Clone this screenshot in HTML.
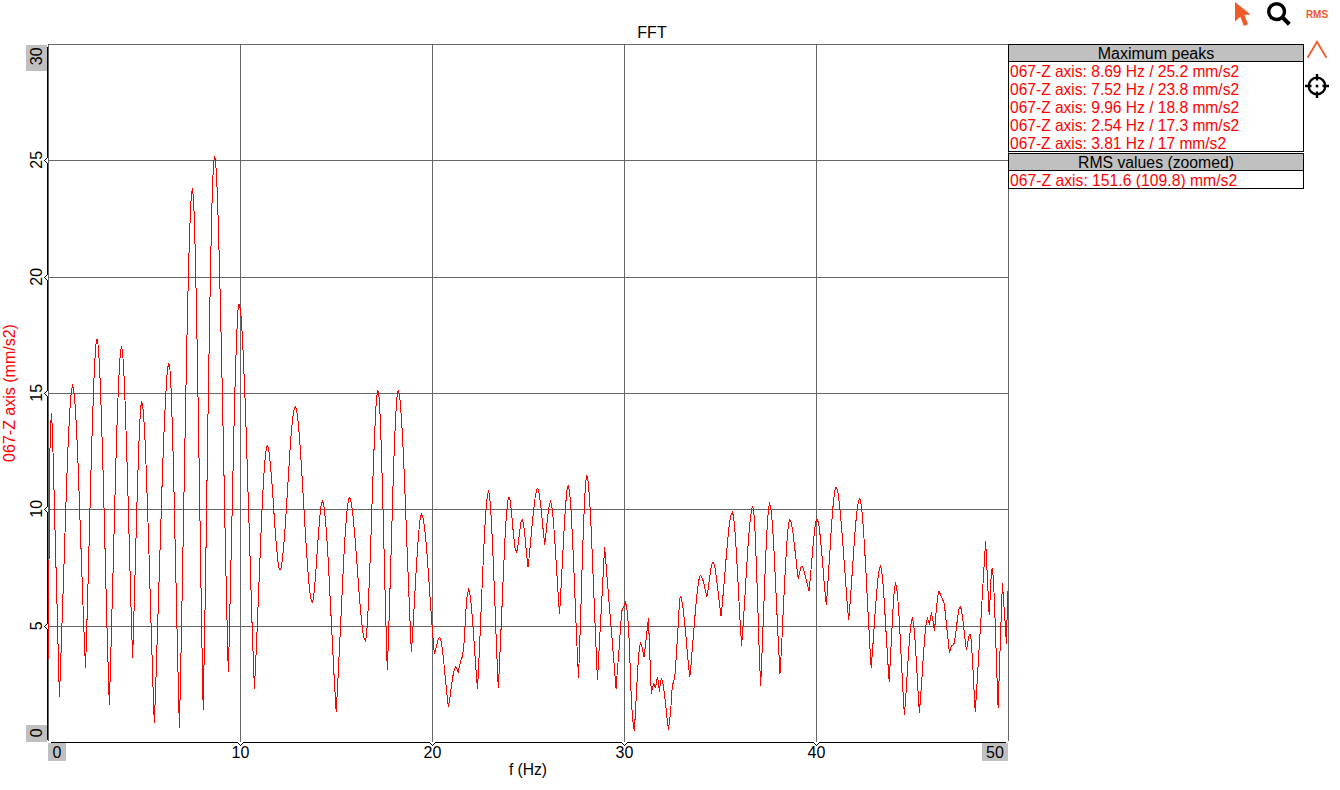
<!DOCTYPE html>
<html><head><meta charset="utf-8"><style>
html,body{margin:0;padding:0;background:#fff;width:1340px;height:790px;overflow:hidden}
svg{display:block;font-family:"Liberation Sans",sans-serif}
</style></head><body>
<svg width="1340" height="790" viewBox="0 0 1340 790">
<g shape-rendering="crispEdges" stroke-width="1">
<path d="M48.5 741V44.5H1008.5V741" fill="none" stroke="#666666"/>
<path d="M240.5 45V742" stroke="#666666"/>
<path d="M432.5 45V742" stroke="#666666"/>
<path d="M624.5 45V742" stroke="#666666"/>
<path d="M816.5 45V742" stroke="#666666"/>
<path d="M49 160.5H1008" stroke="#666666"/>
<path d="M49 277.5H1008" stroke="#666666"/>
<path d="M49 393.5H1008" stroke="#666666"/>
<path d="M49 509.5H1008" stroke="#666666"/>
<path d="M49 626.5H1008" stroke="#666666"/>
<polyline points="48.5,659.0 49.5,466.0 50.5,431.0 51.3,413.0 52.2,426.0 53.0,452.0 54.1,492.8 55.1,533.5 56.2,574.2 57.3,615.0 58.3,655.8 59.4,696.5 60.4,670.9 61.4,642.4 62.4,612.0 63.5,580.5 64.5,548.6 65.5,517.3 66.5,487.5 67.5,459.9 68.5,435.4 69.6,414.9 70.6,399.2 71.6,389.1 72.6,385.6 73.6,388.8 74.6,397.9 75.6,412.2 76.6,430.8 77.6,453.0 78.6,478.1 79.5,505.2 80.5,533.6 81.5,562.5 82.5,591.1 83.5,618.7 84.5,644.6 85.5,667.8 86.5,638.4 87.4,605.5 88.4,570.3 89.3,534.0 90.3,497.8 91.2,462.6 92.2,429.7 93.2,400.3 94.1,375.4 95.1,356.2 96.0,343.9 97.0,339.5 98.0,344.4 99.0,358.1 100.1,379.4 101.1,407.1 102.1,439.9 103.2,476.4 104.2,515.5 105.2,555.9 106.2,596.2 107.2,635.3 108.3,671.9 109.3,704.6 110.3,672.5 111.3,636.6 112.3,598.3 113.4,558.7 114.4,519.1 115.4,480.8 116.4,444.9 117.4,412.8 118.5,385.7 119.5,364.7 120.5,351.3 121.5,346.5 122.5,351.4 123.5,365.2 124.5,386.5 125.5,413.8 126.5,445.9 127.6,481.2 128.6,518.3 129.6,556.0 130.6,592.7 131.6,627.1 132.6,657.7 133.6,626.4 134.6,590.9 135.6,553.3 136.6,515.7 137.7,480.2 138.7,448.9 139.7,424.0 140.7,407.5 141.7,401.5 142.7,405.2 143.6,415.5 144.6,431.8 145.6,453.0 146.5,478.3 147.5,506.8 148.5,537.7 149.5,570.0 150.4,602.9 151.4,635.5 152.4,666.9 153.3,696.3 154.3,722.8 155.3,697.4 156.3,669.4 157.2,639.4 158.2,608.2 159.2,576.4 160.2,544.6 161.2,513.4 162.1,483.5 163.1,455.5 164.1,430.0 165.1,407.8 166.1,389.4 167.0,375.4 168.0,366.6 169.0,363.5 170.0,370.4 171.1,389.7 172.1,419.2 173.2,456.8 174.2,500.1 175.2,547.1 176.3,595.6 177.3,643.3 178.4,688.1 179.4,727.8 180.4,683.4 181.4,634.0 182.4,581.3 183.4,526.5 184.4,471.3 185.4,417.0 186.4,365.2 187.4,317.4 188.4,274.9 189.4,239.3 190.4,212.1 191.4,194.6 192.4,188.5 193.4,196.7 194.4,219.8 195.3,255.4 196.3,301.3 197.3,354.9 198.3,414.0 199.3,476.3 200.3,539.3 201.2,600.8 202.2,658.3 203.2,709.6 204.2,655.1 205.3,593.9 206.3,528.5 207.3,461.5 208.3,395.3 209.4,332.5 210.4,275.5 211.4,226.8 212.4,188.9 213.5,164.3 214.5,155.6 215.5,160.7 216.5,175.2 217.5,198.0 218.4,227.9 219.4,263.9 220.4,304.8 221.4,349.4 222.4,396.7 223.4,445.5 224.4,494.6 225.3,543.0 226.3,589.5 227.3,633.0 228.3,672.4 229.3,636.2 230.2,595.6 231.2,552.2 232.2,507.7 233.2,463.7 234.1,422.0 235.1,384.1 236.1,351.8 237.1,326.6 238.0,310.3 239.0,304.5 240.0,307.8 241.1,317.2 242.1,332.2 243.1,351.8 244.1,375.6 245.2,402.8 246.2,432.8 247.2,464.7 248.2,498.1 249.3,532.1 250.3,566.1 251.3,599.5 252.3,631.5 253.4,661.4 254.4,688.6 255.4,668.6 256.4,646.4 257.4,622.6 258.4,598.0 259.4,573.1 260.4,548.7 261.3,525.4 262.3,503.8 263.3,484.7 264.3,468.7 265.3,456.4 266.3,448.6 267.3,445.8 268.3,447.9 269.3,453.7 270.2,462.6 271.2,473.8 272.2,486.8 273.2,500.7 274.1,515.0 275.1,528.9 276.1,541.9 277.1,553.1 278.0,562.0 279.0,567.8 280.0,569.9 281.0,567.8 282.0,562.0 283.0,552.9 284.1,541.3 285.1,527.6 286.1,512.4 287.1,496.4 288.1,480.1 289.1,464.1 290.1,448.9 291.1,435.2 292.2,423.6 293.2,414.5 294.2,408.7 295.2,406.6 296.2,408.5 297.2,414.1 298.2,422.7 299.2,434.0 300.2,447.4 301.2,462.4 302.2,478.7 303.2,495.7 304.2,512.9 305.2,529.9 306.2,546.2 307.2,561.2 308.2,574.6 309.2,585.9 310.2,594.5 311.2,600.1 312.2,602.0 313.2,599.2 314.2,591.5 315.2,580.2 316.2,566.4 317.2,551.5 318.3,536.6 319.3,522.8 320.3,511.5 321.3,503.8 322.3,501.0 323.3,503.1 324.3,509.0 325.3,518.3 326.3,530.5 327.3,545.1 328.3,561.8 329.2,580.0 330.2,599.2 331.2,619.1 332.2,639.1 333.2,658.9 334.2,677.8 335.2,695.6 336.2,711.6 337.2,694.0 338.2,674.4 339.2,653.4 340.3,631.7 341.3,609.8 342.3,588.2 343.3,567.7 344.3,548.7 345.3,531.8 346.4,517.7 347.4,506.9 348.4,499.9 349.4,497.5 350.4,499.1 351.4,503.7 352.4,510.7 353.4,519.9 354.4,530.7 355.4,542.8 356.4,555.8 357.4,569.1 358.3,582.5 359.3,595.5 360.3,607.6 361.3,618.4 362.3,627.6 363.3,634.6 364.3,639.2 365.3,640.8 366.3,636.6 367.3,624.9 368.2,607.0 369.2,584.3 370.2,558.2 371.2,530.1 372.1,501.3 373.1,473.2 374.1,447.1 375.1,424.4 376.0,406.5 377.0,394.8 378.0,390.6 379.0,397.1 380.1,415.2 381.1,442.4 382.1,476.6 383.2,515.3 384.2,556.4 385.2,597.5 386.3,636.2 387.3,670.4 388.3,642.9 389.3,612.0 390.3,579.0 391.3,545.1 392.3,511.7 393.2,479.9 394.2,451.1 395.2,426.5 396.2,407.4 397.2,395.0 398.2,390.6 399.2,393.6 400.2,402.0 401.2,415.2 402.3,432.5 403.3,453.1 404.3,476.3 405.3,501.5 406.3,527.8 407.3,554.6 408.4,581.1 409.4,606.7 410.4,630.6 411.4,652.2 412.4,637.2 413.4,620.2 414.4,602.1 415.4,583.8 416.4,566.0 417.5,549.5 418.5,535.3 419.5,524.1 420.5,516.8 421.5,514.2 422.5,515.8 423.5,520.3 424.5,527.4 425.5,536.7 426.5,547.7 427.5,560.1 428.4,573.6 429.4,587.7 430.4,602.1 431.4,616.3 432.4,630.0 433.4,642.8 434.4,654.4 435.4,650.5 436.4,646.0 437.5,641.8 438.5,638.7 439.5,637.5 440.5,639.1 441.5,643.6 442.5,650.4 443.5,658.9 444.4,668.6 445.4,678.9 446.4,689.1 447.4,698.8 448.4,707.3 449.4,700.8 450.5,693.4 451.5,685.7 452.5,678.6 453.5,672.6 454.6,668.4 455.6,666.9 456.9,669.0 458.1,672.6 459.4,666.7 460.6,660.7 461.6,658.5 462.6,656.2 463.5,647.9 464.4,639.5 465.6,613.7 467.0,597.0 467.8,593.0 468.5,589.0 469.5,591.3 470.5,597.8 471.5,607.5 472.5,619.8 473.5,633.6 474.5,648.3 475.5,663.0 476.5,676.9 477.5,689.1 478.5,669.7 479.5,647.8 480.5,624.5 481.5,600.6 482.5,577.0 483.5,554.6 484.5,534.3 485.5,516.9 486.5,503.4 487.5,494.6 488.5,491.5 489.5,495.2 490.5,505.6 491.4,521.5 492.4,541.8 493.4,565.1 494.4,590.4 495.4,616.5 496.3,642.3 497.3,666.4 498.3,687.8 499.3,669.0 500.2,648.0 501.2,625.5 502.2,602.5 503.1,579.7 504.1,558.1 505.0,538.4 506.0,521.7 507.0,508.7 507.9,500.2 508.9,497.2 510.0,500.2 511.0,508.1 512.1,518.8 513.1,530.5 514.2,541.2 515.2,549.1 516.3,552.1 517.3,549.7 518.2,543.6 519.2,535.8 520.2,527.9 521.1,521.8 522.1,519.4 523.1,521.8 524.1,528.3 525.0,537.3 526.0,547.7 527.0,558.1 528.0,567.2 529.0,558.6 529.9,548.9 530.9,538.6 531.8,528.1 532.8,518.0 533.8,508.6 534.7,500.5 535.7,494.1 536.6,489.9 537.6,488.4 538.6,490.5 539.6,496.3 540.6,504.6 541.7,514.6 542.7,525.2 543.7,535.5 544.7,544.5 545.7,536.4 546.6,527.0 547.6,517.7 548.6,509.5 549.5,503.8 550.5,501.6 551.5,504.2 552.5,511.4 553.5,522.4 554.5,536.0 555.5,551.6 556.5,568.0 557.5,584.5 558.5,600.0 559.5,613.7 560.5,598.1 561.4,580.3 562.4,561.6 563.4,542.8 564.3,525.0 565.3,509.4 566.3,496.9 567.2,488.7 568.2,485.7 569.2,489.3 570.3,499.5 571.3,515.1 572.3,534.9 573.4,557.7 574.4,582.5 575.4,608.0 576.4,633.2 577.5,656.8 578.5,677.7 579.5,649.7 580.6,617.7 581.6,584.1 582.6,551.4 583.7,521.8 584.7,497.7 585.8,481.5 586.8,475.6 587.8,478.8 588.7,487.9 589.7,501.8 590.7,519.7 591.7,540.7 592.6,563.9 593.6,588.3 594.6,612.9 595.6,637.0 596.5,659.5 597.5,679.6 598.5,660.7 599.5,641.8 600.5,622.9 601.6,603.9 602.6,585.0 603.6,566.1 604.6,547.2 605.6,559.0 606.5,570.8 607.5,582.6 608.4,594.4 609.4,606.2 610.4,618.0 611.3,629.7 612.3,641.5 613.2,653.3 614.2,665.1 615.1,676.9 616.1,688.7 617.0,675.7 618.0,662.8 619.0,649.8 619.9,636.8 620.8,623.9 621.8,610.9 622.8,608.8 623.7,606.6 624.6,604.4 625.6,602.3 626.5,607.1 627.3,612.0 628.6,628.0 629.4,646.8 630.1,665.5 630.8,686.7 631.6,701.8 632.4,716.8 633.3,724.1 634.3,731.4 635.3,714.7 636.3,695.5 637.3,676.3 638.4,659.5 639.4,647.7 640.4,643.2 641.4,644.8 642.3,648.5 643.2,653.2 644.2,657.4 645.2,647.6 646.3,637.8 647.4,627.9 648.4,618.1 649.4,643.2 650.3,668.4 651.3,693.5 652.5,687.6 653.7,684.0 654.6,685.5 655.5,688.0 656.5,681.3 657.5,677.3 658.5,682.7 659.4,691.6 660.3,683.3 661.3,678.3 662.3,680.2 663.3,685.5 664.3,693.1 665.4,702.2 666.4,711.9 667.4,721.3 668.4,729.5 669.5,721.2 670.5,713.0 671.4,699.9 672.2,686.7 673.1,683.1 674.0,679.6 674.9,676.0 675.8,662.8 676.7,649.6 678.1,626.5 679.3,605.0 680.2,596.4 681.2,597.9 682.1,602.2 683.1,608.8 684.0,617.1 685.0,626.7 686.0,637.2 686.9,647.9 687.9,658.5 688.8,668.5 689.8,677.3 690.8,667.3 691.7,656.0 692.7,644.0 693.7,631.7 694.7,619.6 695.6,608.0 696.6,597.5 697.6,588.6 698.6,581.6 699.5,577.1 700.5,575.5 701.6,576.6 702.7,579.4 703.8,583.4 704.8,587.9 705.9,592.5 707.0,596.5 708.0,590.0 709.0,582.6 710.0,575.2 710.9,568.7 711.9,564.1 712.9,562.4 713.9,564.0 715.0,568.3 716.0,574.7 717.0,582.6 718.0,591.3 719.0,600.2 720.1,608.7 721.1,616.2 722.1,606.0 723.1,594.5 724.2,582.2 725.2,569.7 726.2,557.3 727.2,545.5 728.2,534.8 729.2,525.6 730.3,518.5 731.3,513.9 732.3,512.3 733.3,515.4 734.4,524.0 735.4,537.1 736.4,553.4 737.5,571.9 738.5,591.5 739.5,611.2 740.6,629.7 741.6,646.0 742.6,632.3 743.6,616.9 744.7,600.4 745.7,583.6 746.7,566.9 747.7,551.1 748.7,536.8 749.7,524.5 750.8,515.0 751.8,508.8 752.8,506.6 753.8,511.9 754.8,526.2 755.7,547.6 756.7,573.8 757.7,602.9 758.6,632.7 759.6,661.0 760.6,685.9 761.6,663.6 762.6,638.3 763.6,611.5 764.6,584.8 765.6,559.5 766.6,537.2 767.6,519.4 768.6,507.7 769.6,503.4 770.6,506.6 771.7,515.6 772.7,529.4 773.8,546.9 774.8,567.2 775.8,589.1 776.9,611.8 777.9,634.0 779.0,655.0 780.0,673.5 781.0,656.7 782.0,637.7 782.9,617.6 783.9,597.1 784.9,577.2 785.9,558.8 786.9,543.0 787.8,530.5 788.8,522.3 789.8,519.4 790.9,521.1 791.9,525.9 793.0,533.0 794.0,541.6 795.1,551.3 796.2,561.1 797.2,570.5 798.3,578.7 799.4,573.6 800.4,568.6 801.5,566.3 802.4,567.0 803.4,569.0 804.3,572.0 805.2,575.6 806.2,579.6 807.1,583.7 808.1,587.7 809.0,591.1 810.0,581.2 811.0,569.8 812.0,557.9 813.0,546.3 814.0,535.8 815.0,527.2 816.0,521.5 817.0,519.4 818.0,521.4 819.1,526.9 820.1,535.3 821.1,545.8 822.2,557.7 823.2,570.2 824.2,582.8 825.3,594.7 826.3,605.2 827.3,592.4 828.2,577.9 829.2,562.5 830.2,546.8 831.1,531.6 832.1,517.6 833.1,505.5 834.1,496.0 835.0,489.7 836.0,487.5 837.0,489.0 838.0,493.3 838.9,500.0 839.9,508.7 840.9,519.2 841.9,530.9 842.8,543.6 843.8,557.0 844.8,570.5 845.8,584.0 846.7,597.0 847.7,609.1 848.7,620.0 849.7,608.1 850.7,594.6 851.7,580.3 852.7,565.6 853.7,551.1 854.6,537.4 855.6,524.9 856.6,514.2 857.6,505.9 858.6,500.5 859.6,498.6 860.6,500.8 861.5,507.2 862.5,517.1 863.5,529.9 864.4,545.0 865.4,561.9 866.4,580.0 867.3,598.7 868.3,617.4 869.3,635.4 870.2,652.3 871.2,667.5 872.2,655.1 873.2,641.1 874.2,626.3 875.2,611.4 876.3,597.4 877.3,585.0 878.3,575.2 879.3,568.7 880.3,566.3 881.3,569.0 882.3,576.4 883.3,587.6 884.3,601.7 885.2,617.7 886.2,634.6 887.2,651.5 888.2,667.4 889.2,681.5 890.2,662.8 891.3,641.5 892.4,620.1 893.4,601.4 894.5,588.2 895.5,583.2 896.5,586.3 897.5,594.8 898.5,607.7 899.5,623.8 900.4,642.1 901.4,661.5 902.4,680.9 903.4,699.3 904.4,715.4 905.4,702.0 906.4,686.6 907.4,670.5 908.4,654.8 909.4,640.6 910.4,629.1 911.4,621.3 912.4,618.5 913.4,622.1 914.4,631.7 915.4,645.6 916.4,662.3 917.4,680.2 918.4,697.4 919.4,712.5 920.4,699.5 921.5,684.6 922.5,669.0 923.5,653.8 924.5,640.0 925.5,628.8 926.6,621.3 927.6,618.5 928.5,621.0 929.5,625.1 930.5,618.0 931.4,613.7 932.4,616.9 933.4,623.8 934.4,630.8 935.3,621.6 936.2,611.2 937.2,601.4 938.1,594.1 939.0,591.3 940.1,593.7 941.1,596.1 942.2,598.5 943.2,600.9 944.3,603.3 945.3,613.3 946.3,623.2 947.4,633.2 948.4,643.1 949.4,653.1 950.5,648.7 951.5,646.0 952.4,645.5 953.2,645.1 954.2,643.0 955.2,637.4 956.2,629.9 957.1,621.7 958.1,614.2 959.1,608.6 960.1,606.5 961.1,608.7 962.2,614.6 963.2,622.9 964.3,632.4 965.4,641.9 966.4,650.2 967.3,645.4 968.2,640.0 969.1,635.7 970.0,633.9 971.1,639.5 972.1,654.0 973.2,673.4 974.2,694.1 975.3,712.3 976.3,695.1 977.4,678.0 978.4,660.8 979.4,643.7 980.5,626.5 981.5,609.4 982.5,592.2 983.5,575.1 984.6,557.9 985.6,540.8 986.5,559.4 987.4,578.1 988.3,596.8 989.2,615.4 990.2,596.3 991.1,577.2 992.1,568.5 993.1,575.6 994.1,594.2 995.1,620.6 996.1,650.9 997.1,681.1 998.1,707.5 999.2,676.4 1000.2,645.2 1001.3,614.0 1002.4,582.9 1003.4,598.2 1004.5,613.5 1005.5,628.9 1006.5,644.2 1007.2,611.1 1008.0,591.3" fill="none" stroke="#ff0000" stroke-width="1"/>
<path d="M47 47h1V158h-1ZM47 163h1V275h-1ZM47 280h1V391h-1ZM47 396h1V507h-1ZM47 512h1V624h-1ZM47 629h1V740h-1ZM51 742H238v1H51ZM243 742H430v1H243ZM435 742H622v1H435ZM627 742H814v1H627ZM819 742H1006v1H819ZM46 158h1v1h-1ZM45 159h1v1h-1ZM44 160h1v1h-1ZM45 161h1v1h-1ZM46 162h1v1h-1ZM46 275h1v1h-1ZM45 276h1v1h-1ZM44 277h1v1h-1ZM45 278h1v1h-1ZM46 279h1v1h-1ZM46 391h1v1h-1ZM45 392h1v1h-1ZM44 393h1v1h-1ZM45 394h1v1h-1ZM46 395h1v1h-1ZM46 507h1v1h-1ZM45 508h1v1h-1ZM44 509h1v1h-1ZM45 510h1v1h-1ZM46 511h1v1h-1ZM46 624h1v1h-1ZM45 625h1v1h-1ZM44 626h1v1h-1ZM45 627h1v1h-1ZM46 628h1v1h-1ZM238 743h1v1h-1ZM239 744h1v1h-1ZM240 745h1v1h-1ZM241 744h1v1h-1ZM242 743h1v1h-1ZM430 743h1v1h-1ZM431 744h1v1h-1ZM432 745h1v1h-1ZM433 744h1v1h-1ZM434 743h1v1h-1ZM622 743h1v1h-1ZM623 744h1v1h-1ZM624 745h1v1h-1ZM625 744h1v1h-1ZM626 743h1v1h-1ZM814 743h1v1h-1ZM815 744h1v1h-1ZM816 745h1v1h-1ZM817 744h1v1h-1ZM818 743h1v1h-1Z" fill="#000"/>
<rect x="26" y="45" width="21" height="26" fill="#c0c0c0"/>
<rect x="26" y="725" width="21" height="17" fill="#c0c0c0"/>
<rect x="48" y="743" width="18" height="18" fill="#c0c0c0"/>
<rect x="982" y="743" width="26" height="18" fill="#c0c0c0"/>
<rect x="1008.5" y="44.5" width="295" height="107" fill="#fff" stroke="#000"/>
<rect x="1009" y="45" width="294" height="16" fill="#c0c0c0"/>
<path d="M1008 61.5H1304" stroke="#000"/>
<rect x="1008.5" y="153.5" width="295" height="35" fill="#fff" stroke="#000"/>
<rect x="1009" y="154" width="294" height="16" fill="#c0c0c0"/>
<path d="M1008 170.5H1304" stroke="#000"/>
</g>
<text x="652" y="38" text-anchor="middle" fill="#000" font-size="16" >FFT</text>
<text transform="translate(528 775) scale(0.975 1)" text-anchor="middle" font-size="16">f (Hz)</text>
<text x="57" y="758" text-anchor="middle" fill="#000" font-size="16" >0</text>
<text x="240.5" y="758" text-anchor="middle" fill="#000" font-size="16" >10</text>
<text x="432.5" y="758" text-anchor="middle" fill="#000" font-size="16" >20</text>
<text x="624.5" y="758" text-anchor="middle" fill="#000" font-size="16" >30</text>
<text x="816.5" y="758" text-anchor="middle" fill="#000" font-size="16" >40</text>
<text x="995" y="758" text-anchor="middle" fill="#000" font-size="16" >50</text>
<text transform="translate(41.6 56.3) rotate(-90)" x="0" y="0" text-anchor="middle" font-size="16">30</text>
<text transform="translate(41.6 159.8) rotate(-90)" x="0" y="0" text-anchor="middle" font-size="16">25</text>
<text transform="translate(41.6 276.8) rotate(-90)" x="0" y="0" text-anchor="middle" font-size="16">20</text>
<text transform="translate(41.6 392.8) rotate(-90)" x="0" y="0" text-anchor="middle" font-size="16">15</text>
<text transform="translate(41.6 508.8) rotate(-90)" x="0" y="0" text-anchor="middle" font-size="16">10</text>
<text transform="translate(41.6 625.8) rotate(-90)" x="0" y="0" text-anchor="middle" font-size="16">5</text>
<text transform="translate(41.6 732.8) rotate(-90)" x="0" y="0" text-anchor="middle" font-size="16">0</text>
<text transform="translate(14.7 393) rotate(-90)" text-anchor="middle" font-size="16" fill="#ff0000">067-Z axis (mm/s2)</text>
<text x="1156" y="59" text-anchor="middle" fill="#000" font-size="16" >Maximum peaks</text>
<text transform="translate(1010 77) scale(0.9735 1)" fill="#ff0000" font-size="16">067-Z axis: 8.69 Hz / 25.2 mm/s2</text>
<text transform="translate(1010 95) scale(0.9735 1)" fill="#ff0000" font-size="16">067-Z axis: 7.52 Hz / 23.8 mm/s2</text>
<text transform="translate(1010 113) scale(0.9735 1)" fill="#ff0000" font-size="16">067-Z axis: 9.96 Hz / 18.8 mm/s2</text>
<text transform="translate(1010 131) scale(0.9735 1)" fill="#ff0000" font-size="16">067-Z axis: 2.54 Hz / 17.3 mm/s2</text>
<text transform="translate(1010 149) scale(0.973 1)" fill="#ff0000" font-size="16">067-Z axis: 3.81 Hz / 17 mm/s2</text>
<text transform="translate(1156 168) scale(0.985 1)" text-anchor="middle" font-size="16">RMS values (zoomed)</text>
<text transform="translate(1010 186) scale(0.9825 1)" fill="#ff0000" font-size="16">067-Z axis: 151.6 (109.8) mm/s2</text>

<path d="M1235 2V21.5L1240.3 16.8L1243.9 26L1248 24.2L1244.4 14.9L1250.5 14.4Z" fill="#f05a28"/>
<circle cx="1276.6" cy="11.6" r="7.9" fill="none" stroke="#000" stroke-width="3.4"/>
<path d="M1282.3 17.3L1289.3 24.3" stroke="#000" stroke-width="4.1"/>
<text x="1317" y="18" text-anchor="middle" font-size="10" font-weight="bold" fill="#f05a28">RMS</text>
<path d="M1307.6 57.7L1317 41.8L1326.4 57.7" fill="none" stroke="#f05a28" stroke-width="1.8"/>
<circle cx="1317" cy="86" r="8.3" fill="none" stroke="#000" stroke-width="2.3"/>
<path d="M1317 74V80.5M1317 91.5V98M1305 86H1311.5M1322.5 86H1329" stroke="#000" stroke-width="2.4"/>
<circle cx="1317" cy="86" r="1.5" fill="#000"/>

</svg>
</body></html>
